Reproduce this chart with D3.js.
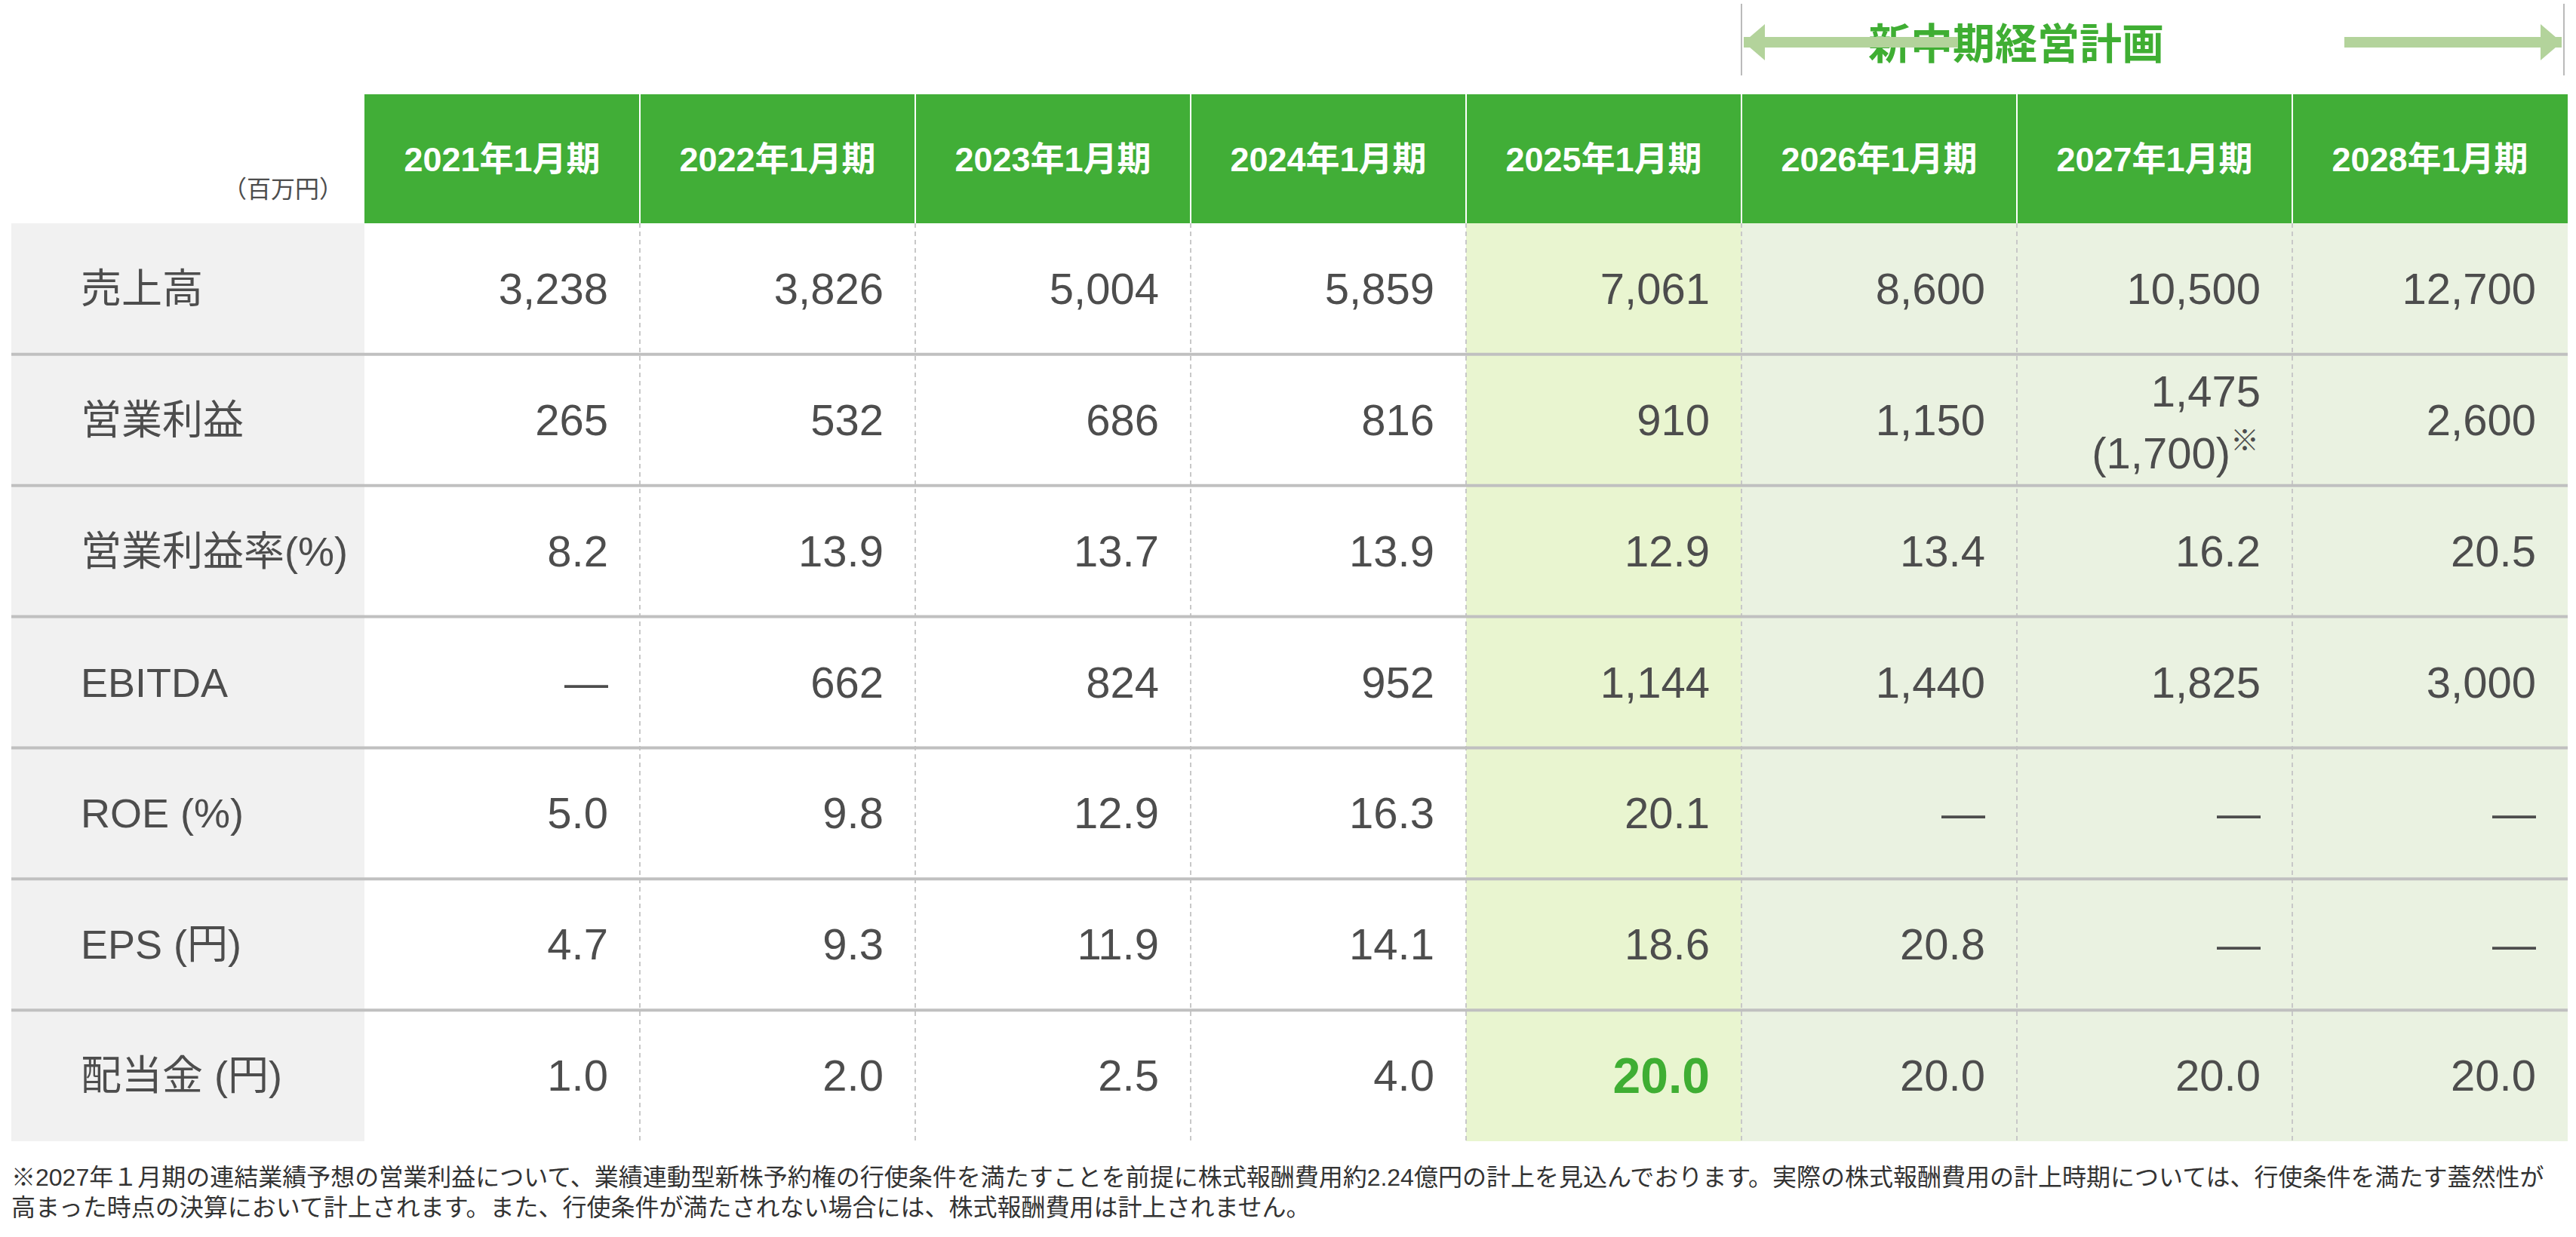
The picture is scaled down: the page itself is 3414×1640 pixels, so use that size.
<!DOCTYPE html>
<html><head><meta charset="utf-8">
<script src="https://cdn.jsdelivr.net/npm/d3@7"></script>
<style>body{margin:0;background:#fff}svg{display:block}</style>
</head><body><svg id="chart" width="3414" height="1640"></svg>
<script>
const periods = ["2021年1月期","2022年1月期","2023年1月期","2024年1月期","2025年1月期","2026年1月期","2027年1月期","2028年1月期"];
const rowLabels = ["売上高","営業利益","営業利益率(%)","EBITDA","ROE (%)","EPS (円)","配当金 (円)"];
const sales     = ["3,238","3,826","5,004","5,859","7,061","8,600","10,500","12,700"];
const opProfit  = ["265","532","686","816","910","1,150","1,475\n(1,700)","2,600"];
const opMargin  = ["8.2","13.9","13.7","13.9","12.9","13.4","16.2","20.5"];
const ebitda    = ["—","662","824","952","1,144","1,440","1,825","3,000"];
const roe       = ["5.0","9.8","12.9","16.3","20.1","—","—","—"];
const eps       = ["4.7","9.3","11.9","14.1","18.6","20.8","—","—"];
const dividend  = ["1.0","2.0","2.5","4.0","20.0","20.0","20.0","20.0"];
const rows = [sales, opProfit, opMargin, ebitda, roe, eps, dividend];
const planTitle = "新中期経営計画";
const unitLabel = "（百万円）";
const footnote = ["※2027年１月期の連結業績予想の営業利益について、業績連動型新株予約権の行使条件を満たすことを前提に株式報酬費用約2.24億円の計上を見込んでおります。実際の株式報酬費用の計上時期については、行使条件を満たす蓋然性が",
  "高まった時点の決算において計上されます。また、行使条件が満たされない場合には、株式報酬費用は計上されません。"];

const font = "'Liberation Sans','Noto Sans CJK JP',sans-serif";
const svg = d3.select("#chart");
const x = d3.scaleBand().domain(periods).range([483, 3403]);
const y = d3.scaleBand().domain(rowLabels).range([296, 1513]);
const headTop = 125;
const txt = "#4d4d4d";

// column backgrounds
svg.append("rect").attr("x", 15).attr("y", y.range()[0]).attr("width", 468).attr("height", 1217).attr("fill", "#f1f1f1");
svg.selectAll("rect.col").data(periods).enter().append("rect")
  .attr("x", d => x(d)).attr("y", 296).attr("width", x.bandwidth()).attr("height", 1217)
  .attr("fill", (d, i) => i === 4 ? "#e9f5d0" : i > 4 ? "#eaf2e1" : "#fff");

// header
svg.append("rect").attr("x", x.range()[0]).attr("y", headTop).attr("width", x.range()[1] - x.range()[0]).attr("height", 296 - headTop).attr("fill", "#41ae37");
svg.selectAll("text.head").data(periods).enter().append("text")
  .attr("x", d => x(d) + x.bandwidth() / 2).attr("y", (headTop + 296) / 2 + 16)
  .attr("text-anchor", "middle").attr("font-family", font).attr("font-weight", "bold")
  .attr("font-size", 45).attr("fill", "#fff").text(d => d);
svg.selectAll("line.hsep").data(periods.slice(1)).enter().append("line")
  .attr("x1", d => x(d)).attr("x2", d => x(d)).attr("y1", headTop).attr("y2", 296)
  .attr("stroke", "#fff").attr("stroke-width", 2);
svg.append("text").attr("x", 455).attr("y", 262).attr("text-anchor", "end")
  .attr("font-family", font).attr("font-size", 32).attr("fill", txt).text(unitLabel);

// vertical dashed separators
svg.selectAll("line.vsep").data(periods.slice(1)).enter().append("line")
  .attr("x1", d => x(d)).attr("x2", d => x(d)).attr("y1", 296).attr("y2", 1513)
  .attr("stroke", "#c8c8c8").attr("stroke-width", 2).attr("stroke-dasharray", "6,5");
// horizontal row separators
svg.selectAll("line.rsep").data(rowLabels.slice(1)).enter().append("line")
  .attr("x1", 15).attr("x2", 3403).attr("y1", d => y(d)).attr("y2", d => y(d))
  .attr("stroke", "#c0c0c0").attr("stroke-width", 4);

// row labels
svg.selectAll("text.rl").data(rowLabels).enter().append("text")
  .attr("x", 107).attr("y", d => y(d) + y.bandwidth() / 2 + 19)
  .attr("font-family", font).attr("font-size", 54).attr("fill", txt).text(d => d);

// values
rows.forEach((vals, r) => {
  const cy = y(rowLabels[r]) + y.bandwidth() / 2;
  vals.forEach((v, c) => {
    const rx = x(periods[c]) + x.bandwidth() - 42;
    const lines = v.split("\n");
    const g = svg.append("text").attr("text-anchor", "end").attr("font-family", font)
      .attr("font-size", 58).attr("fill", txt);
    if (lines.length === 1) {
      g.attr("x", rx).attr("y", cy + 20).text(v);
      if (r === 6 && c === 4) g.attr("fill", "#3fae33").attr("font-weight", "bold").attr("font-size", 66).attr("y", cy + 23);
    } else {
      g.append("tspan").attr("x", rx).attr("y", cy - 18).text(lines[0]);
      g.append("tspan").attr("x", rx - 2).attr("y", cy + 64).text(lines[1]);
      g.append("tspan").attr("dy", -24).attr("font-size", 38).text("※");
    }
  });
});

// plan banner
const px0 = x(periods[5]), px1 = x.range()[1] - 5;
const arrowC = "#b3d39b";
[px0, px1].forEach(v => svg.append("line").attr("x1", v).attr("x2", v).attr("y1", 5).attr("y2", 100)
  .attr("stroke", "#bbb").attr("stroke-width", 2));
const mid = 2672;
svg.append("text").attr("x", mid).attr("y", 78).attr("text-anchor", "middle")
  .attr("font-family", font).attr("font-weight", "bold").attr("font-size", 56).attr("fill", "#3fae33").text(planTitle);
function arrow(xa, xb, dir) {
  svg.append("rect").attr("x", Math.min(xa, xb)).attr("y", 49).attr("width", Math.abs(xb - xa)).attr("height", 14).attr("fill", arrowC);
  const tip = xb, back = xb - dir * 28;
  svg.append("path").attr("d", `M${tip},56 L${back},32 L${back},80 Z`).attr("fill", arrowC);
}
arrow(2595 - 0, px0 + 3, -1);
arrow(3107, px1 - 3, 1);

// footnote
svg.selectAll("text.fn").data(footnote).enter().append("text")
  .attr("x", 15).attr("y", (d, i) => 1572 + i * 40)
  .attr("font-family", font).attr("font-size", 32).attr("fill", "#333").text(d => d);
</script></body></html>
